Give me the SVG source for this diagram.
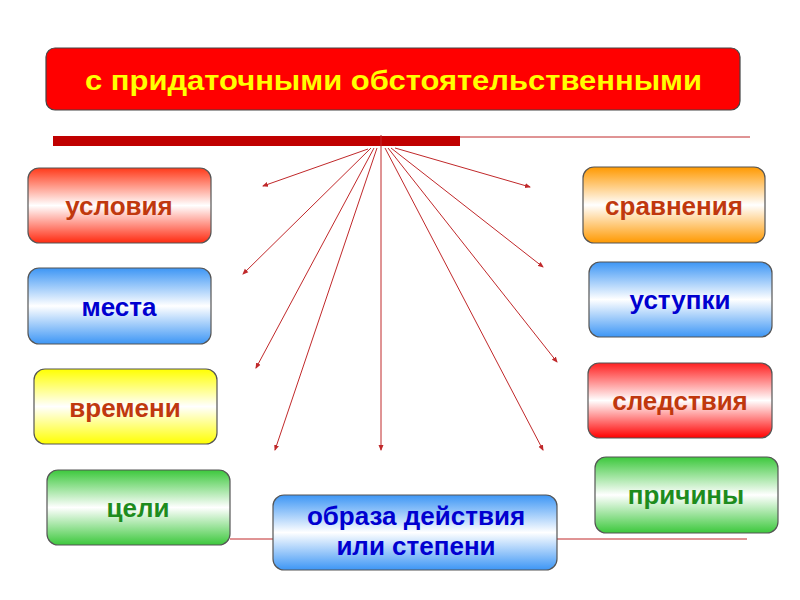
<svg xmlns="http://www.w3.org/2000/svg" width="800" height="600" viewBox="0 0 800 600">
<style>
.box{stroke:#555;stroke-width:1.2}
.lbl{font-family:"Liberation Sans",Arial,sans-serif;font-weight:bold;font-size:26px;text-anchor:middle}
.conn{stroke:#C0282A;stroke-width:1;fill:none}
</style>
<defs>
<linearGradient id="gRed" x1="0" y1="0" x2="0" y2="1"><stop offset="0" stop-color="#FF3A1A"/><stop offset="0.5" stop-color="#FFFFFF"/><stop offset="1" stop-color="#FF2A10"/></linearGradient>
<linearGradient id="gRed2" x1="0" y1="0" x2="0" y2="1"><stop offset="0" stop-color="#FF2020"/><stop offset="0.5" stop-color="#FFFFFF"/><stop offset="1" stop-color="#FF0000"/></linearGradient>
<linearGradient id="gBlue" x1="0" y1="0" x2="0" y2="1"><stop offset="0" stop-color="#3D96F5"/><stop offset="0.5" stop-color="#FFFFFF"/><stop offset="1" stop-color="#3D96F5"/></linearGradient>
<linearGradient id="gYel" x1="0" y1="0" x2="0" y2="1"><stop offset="0" stop-color="#FFFF00"/><stop offset="0.5" stop-color="#FFFFFF"/><stop offset="1" stop-color="#FFFF00"/></linearGradient>
<linearGradient id="gGrn" x1="0" y1="0" x2="0" y2="1"><stop offset="0" stop-color="#3CC83C"/><stop offset="0.5" stop-color="#FFFFFF"/><stop offset="1" stop-color="#3CC83C"/></linearGradient>
<linearGradient id="gOr" x1="0" y1="0" x2="0" y2="1"><stop offset="0" stop-color="#FF9900"/><stop offset="0.5" stop-color="#FFFFFF"/><stop offset="1" stop-color="#FF9900"/></linearGradient>
<marker id="ah" markerWidth="6" markerHeight="6" refX="5" refY="3" orient="auto" markerUnits="userSpaceOnUse"><path d="M0,0.5 L6,3 L0,5.5 Z" fill="#C0282A"/></marker>
</defs>
<rect width="800" height="600" fill="#FFFFFF"/>

<g id="title">
<rect x="46" y="48" width="694" height="62" rx="9" fill="#FF0000" stroke="#444" stroke-width="1.2"/>
<text x="85" y="90" font-family="Liberation Sans, Arial, sans-serif" font-weight="bold" font-size="27" fill="#FFFF00" textLength="617" lengthAdjust="spacingAndGlyphs">с придаточными обстоятельственными</text>
</g>

<g id="bar">
<rect x="53" y="136" width="407" height="10" fill="#C00000"/>
<line x1="460" y1="137" x2="750" y2="137" stroke="#C0282A" stroke-width="1"/>
</g>

<g id="connectors">
<line class="conn" x1="381" y1="135" x2="381" y2="450" marker-end="url(#ah)"/>
<line class="conn" x1="368" y1="149" x2="263" y2="186" marker-end="url(#ah)"/>
<line class="conn" x1="371" y1="148" x2="243" y2="274" marker-end="url(#ah)"/>
<line class="conn" x1="374" y1="148" x2="256" y2="368" marker-end="url(#ah)"/>
<line class="conn" x1="377" y1="148" x2="275" y2="450" marker-end="url(#ah)"/>
<line class="conn" x1="385" y1="148" x2="543" y2="450" marker-end="url(#ah)"/>
<line class="conn" x1="388" y1="148" x2="557" y2="362" marker-end="url(#ah)"/>
<line class="conn" x1="391" y1="148" x2="543" y2="267" marker-end="url(#ah)"/>
<line class="conn" x1="395" y1="148" x2="530" y2="187" marker-end="url(#ah)"/>
<line class="conn" x1="230" y1="539" x2="273" y2="539"/>
<line class="conn" x1="557" y1="539" x2="747" y2="539"/>
</g>

<g id="n-uslovia">
<rect class="box" x="28" y="168" width="183" height="75" rx="11" fill="url(#gRed)"/>
<text class="lbl" x="119" y="215" fill="#C0380E">условия</text>
</g>
<g id="n-mesta">
<rect class="box" x="28" y="268" width="183" height="76" rx="11" fill="url(#gBlue)"/>
<text class="lbl" x="119" y="316" fill="#0000D0">места</text>
</g>
<g id="n-vremeni">
<rect class="box" x="34" y="369" width="183" height="75" rx="11" fill="url(#gYel)"/>
<text class="lbl" x="125" y="417" fill="#C0380E">времени</text>
</g>
<g id="n-celi">
<rect class="box" x="47" y="470" width="183" height="75" rx="11" fill="url(#gGrn)"/>
<text class="lbl" x="138" y="517" fill="#1E8C1E">цели</text>
</g>
<g id="n-sravnenia">
<rect class="box" x="583" y="167" width="182" height="76" rx="11" fill="url(#gOr)"/>
<text class="lbl" x="674" y="215" fill="#C0380E">сравнения</text>
</g>
<g id="n-ustupki">
<rect class="box" x="589" y="262" width="183" height="75" rx="11" fill="url(#gBlue)"/>
<text class="lbl" x="680" y="309" fill="#0000D0">уступки</text>
</g>
<g id="n-sledstvia">
<rect class="box" x="588" y="363" width="184" height="75" rx="11" fill="url(#gRed2)"/>
<text class="lbl" x="680" y="410" fill="#C0380E">следствия</text>
</g>
<g id="n-prichiny">
<rect class="box" x="595" y="457" width="183" height="76" rx="11" fill="url(#gGrn)"/>
<text class="lbl" x="686" y="504" fill="#1E8C1E">причины</text>
</g>
<g id="n-obraza">
<rect class="box" x="273" y="495" width="284" height="75" rx="11" fill="url(#gBlue)"/>
<text class="lbl" x="416" y="525" fill="#0000D0">образа действия</text>
<text class="lbl" x="416" y="555" fill="#0000D0">или степени</text>
</g>
</svg>
